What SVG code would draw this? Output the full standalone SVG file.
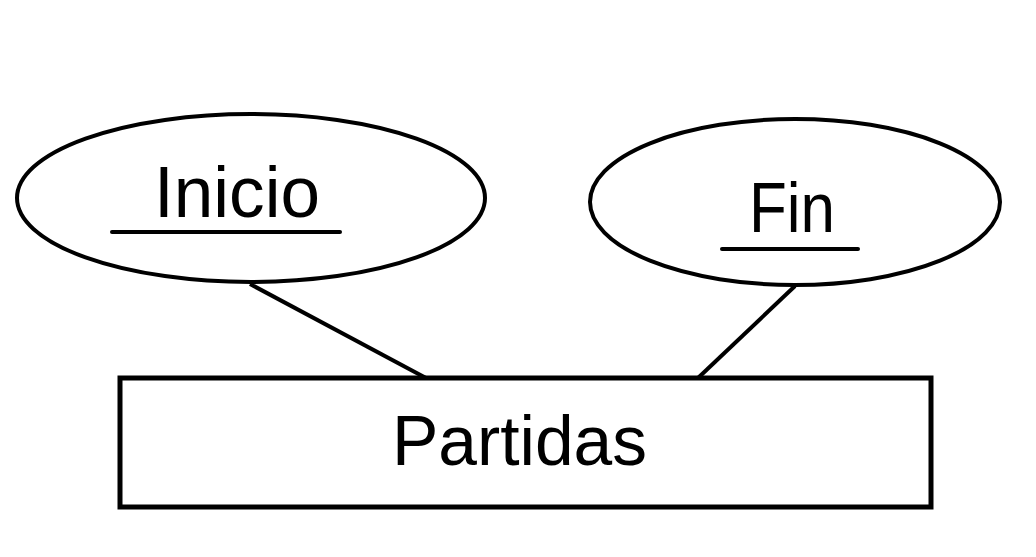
<svg xmlns="http://www.w3.org/2000/svg" width="1036" height="557" viewBox="0 0 1036 557">
<style>
.shape{fill:#fff;stroke:#000;stroke-width:4}
.box{fill:#fff;stroke:#000;stroke-width:5}
.conn{stroke:#000;stroke-width:4;fill:none}
.ul{stroke:#000;stroke-width:4;stroke-linecap:round}
.lbl{font-family:"Liberation Sans",Arial,sans-serif;fill:#000}
</style>
<rect width="1036" height="557" fill="#fff"/>
<g id="connectors">
<line class="conn" x1="250" y1="284" x2="426" y2="378"/>
<line class="conn" x1="795" y1="286" x2="698" y2="378"/>
</g>
<g id="inicio">
<ellipse class="shape" cx="251" cy="198" rx="234" ry="84"/>
<text class="lbl" x="154" y="217" font-size="72" textLength="166" lengthAdjust="spacingAndGlyphs">Inicio</text>
<line class="ul" x1="112" y1="232" x2="340" y2="232"/>
</g>
<g id="fin">
<ellipse class="shape" cx="795" cy="202" rx="205" ry="83"/>
<text class="lbl" x="749" y="232" font-size="70" textLength="86" lengthAdjust="spacingAndGlyphs">Fin</text>
<line class="ul" x1="722" y1="249" x2="858" y2="249"/>
</g>
<g id="partidas">
<rect class="box" x="120" y="378" width="811" height="129"/>
<text class="lbl" x="392" y="465" font-size="70" textLength="255" lengthAdjust="spacingAndGlyphs">Partidas</text>
</g>
</svg>
